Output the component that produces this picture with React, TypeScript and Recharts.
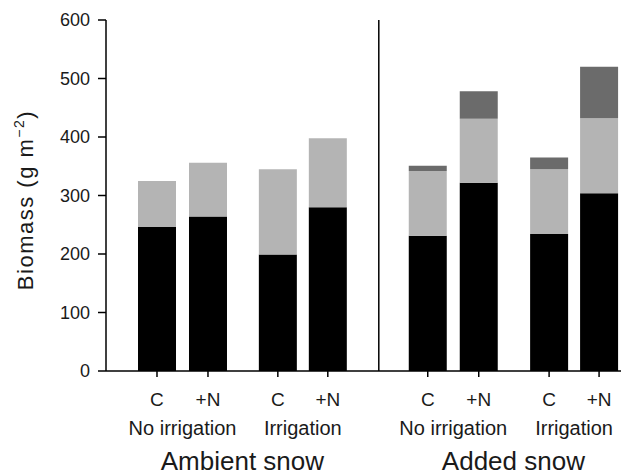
import React from "react";
import { BarChart, Bar, XAxis, YAxis, ReferenceLine } from "recharts";

const treatments = ["C", "+N", "C", "+N", "C", "+N", "C", "+N"];
const xPositions = [1, 2, 3.37, 4.35, 6.31, 7.31, 8.69, 9.67];
const irrigationLabels = ["No irrigation", "Irrigation", "No irrigation", "Irrigation"];
const snowLabels = ["Ambient snow", "Added snow"];
const bottomValues = [246, 264, 199, 280, 231, 322, 234, 304];
const middleValues = [79, 92, 146, 118, 111, 109, 111, 128];
const topValues = [0, 0, 0, 0, 9, 47, 20, 88];
const yTicks = [0, 100, 200, 300, 400, 500, 600];
const separatorX = 5.35;

const data = xPositions.map((x, i) => ({
  x,
  treatment: treatments[i],
  bottom: bottomValues[i],
  middle: middleValues[i],
  top: topValues[i],
}));

const pairCenters = irrigationLabels.map((_, i) => (xPositions[2 * i] + xPositions[2 * i + 1]) / 2);
const groupCenters = snowLabels.map((_, i) => (xPositions[4 * i] + xPositions[4 * i + 3]) / 2);

const FONT = "'Liberation Sans', Arial, Helvetica, sans-serif";
const TEXT = "#1a1a1a";

const YLabel = () => (
  <text
    x={33}
    y={200}
    transform="rotate(-90, 33, 200)"
    textAnchor="middle"
    fontSize={22}
    letterSpacing={1.5}
    fontFamily={FONT}
    fill={TEXT}
  >
    Biomass (g m
    <tspan dy={-9} fontSize={14}>−2</tspan>
    <tspan dy={9}>)</tspan>
  </text>
);

export default function App() {
  const domain: [number, number] = [0, 10.1];
  return (
    <div style={{ position: "absolute", left: 0, top: 0, background: "#fff" }}>
      <BarChart
        width={621}
        height={476}
        data={data}
        margin={{ top: 20, right: 0, bottom: 0, left: 0 }}
      >
        <XAxis
          xAxisId="a_main"
          type="number"
          dataKey="x"
          domain={domain}
          allowDataOverflow
          ticks={xPositions}
          interval={0}
          tickFormatter={(_v: number, i: number) => treatments[i]}
          height={30}
          tickSize={6}
          tickMargin={16}
          axisLine={{ stroke: "#000", strokeWidth: 1.5 }}
          tickLine={{ stroke: "#000", strokeWidth: 1.5 }}
          tick={{ fontSize: 19, fill: TEXT, fontFamily: FONT }}
        />
        <XAxis
          xAxisId="b_irr"
          type="number"
          dataKey="x"
          domain={domain}
          allowDataOverflow
          ticks={pairCenters}
          interval={0}
          tickFormatter={(_v: number, i: number) => irrigationLabels[i]}
          height={35}
          tickSize={0}
          tickMargin={20}
          axisLine={false}
          tickLine={false}
          tick={{ fontSize: 20, fill: TEXT, fontFamily: FONT }}
        />
        <XAxis
          xAxisId="c_snow"
          type="number"
          dataKey="x"
          domain={domain}
          allowDataOverflow
          ticks={groupCenters}
          interval={0}
          tickFormatter={(_v: number, i: number) => snowLabels[i]}
          height={40}
          tickSize={0}
          tickMargin={16}
          axisLine={false}
          tickLine={false}
          tick={{ fontSize: 26, fill: TEXT, fontFamily: FONT }}
        />
        <YAxis
          type="number"
          domain={[0, 600]}
          ticks={yTicks}
          interval={0}
          width={106}
          tickSize={8}
          tickMargin={8}
          axisLine={{ stroke: "#000", strokeWidth: 1.5 }}
          tickLine={{ stroke: "#000", strokeWidth: 1.5 }}
          tick={{ fontSize: 18, fill: TEXT, fontFamily: FONT }}
          label={{ content: () => <YLabel /> }}
        />
        <ReferenceLine xAxisId="a_main" x={separatorX} stroke="#000" strokeWidth={1.5} />
        <Bar xAxisId="a_main" dataKey="bottom" stackId="a" fill="#000000" barSize={38} isAnimationActive={false} />
        <Bar xAxisId="a_main" dataKey="middle" stackId="a" fill="#b4b4b4" barSize={38} isAnimationActive={false} />
        <Bar xAxisId="a_main" dataKey="top" stackId="a" fill="#6b6b6b" barSize={38} isAnimationActive={false} />
      </BarChart>
    </div>
  );
}
